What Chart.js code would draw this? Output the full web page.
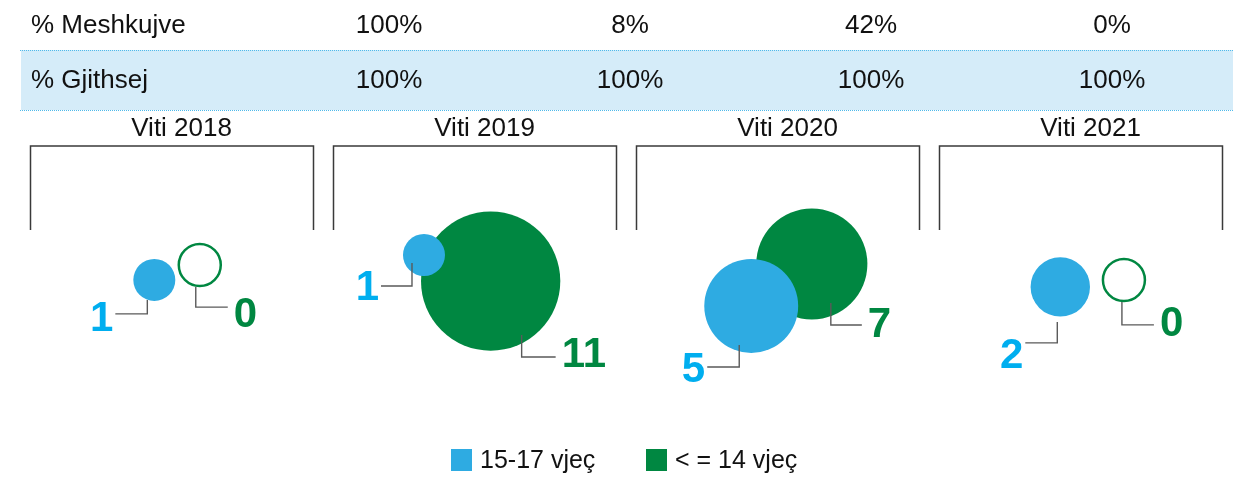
<!DOCTYPE html>
<html>
<head>
<meta charset="utf-8">
<script src="https://cdn.jsdelivr.net/npm/chart.js@4.4.0/dist/chart.umd.min.js"></script>
<style>
  body { margin: 0; background: #fff; }
  canvas { display: block; }
</style>
</head>
<body>
<canvas id="chart" width="1233" height="480"></canvas>
<script>
const years = ['Viti 2018', 'Viti 2019', 'Viti 2020', 'Viti 2021'];
const rowLabels = ['% Meshkujve', '% Gjithsej'];
const shareMales = ['100%', '8%', '42%', '0%'];
const shareTotal = ['100%', '100%', '100%', '100%'];
const seriesNames = ['15-17 vjeç', '< = 14 vjeç'];
const age15to17 = [1, 1, 5, 2];
const age14under = [0, 11, 7, 0];
// bubble coordinates (x = panel index + offset, y = free units)
const age15to17X = [0.44, 1.33, 2.41, 3.43];
const age15to17Y = [5.36, 6.25, 4.43, 5.11];
const age14underX = [0.59, 1.55, 2.61, 3.64];
const age14underY = [5.89, 5.32, 5.93, 5.36];

const BLUE = '#2eabe2';
const BLUE_TXT = '#00aeef';
const GREEN = '#008741';
const FONT = '"Liberation Sans", Arial, sans-serif';

function radius(v) {
    return v > 0 ? 21 * Math.sqrt(v) : 21;
}

function points(xs, ys, vals) {
    return vals.map((v, i) => ({ x: xs[i], y: ys[i], r: radius(v), v: v }));
}

// leader line layout per point: start offset on bubble, elbow y, end x, label y (px from bubble centre)
const leaders = [
    [[-7, 20, 34, -39, 40], [-12, 8, 31, -43, 33], [-12, 39, 61, -44, 64], [-3, 35, 56, -35, 70]],
    [[-4, 22, 42, 28, 50], [31, 54, 76, 65, 74], [19, 39, 61, 50, 61], [-2, 22, 45, 30, 45]]
];

const decor = {
    id: 'decor',
    beforeDatasetsDraw(chart) {
        const ctx = chart.ctx;
        const x = chart.scales.x;
        ctx.save();
        // table
        ctx.fillStyle = '#d5ecf9';
        ctx.fillRect(21, 50, chart.width - 21, 60);
        ctx.strokeStyle = '#4fb9ea';
        ctx.lineWidth = 1;
        ctx.setLineDash([1, 1]);
        [50.5, 110.5].forEach(y => {
            ctx.beginPath();
            ctx.moveTo(20, y);
            ctx.lineTo(chart.width, y);
            ctx.stroke();
        });
        ctx.setLineDash([]);
        ctx.fillStyle = '#111';
        ctx.font = '26px ' + FONT;
        ctx.textBaseline = 'middle';
        ctx.textAlign = 'left';
        ctx.fillText(rowLabels[0], 31, 26);
        ctx.fillText(rowLabels[1], 31, 81);
        ctx.textAlign = 'center';
        years.forEach((y, i) => {
            ctx.fillText(shareMales[i], 389 + i * 241, 26);
            ctx.fillText(shareTotal[i], 389 + i * 241, 81);
        });
        // year panels
        ctx.strokeStyle = '#3a3a3a';
        ctx.lineWidth = 1.5;
        ctx.font = '26px ' + FONT;
        years.forEach((y, i) => {
            const l = Math.round(x.getPixelForValue(i + 0.03)) + 0.5;
            const r = Math.round(x.getPixelForValue(i + 0.965)) + 0.5;
            ctx.beginPath();
            ctx.moveTo(l, 230);
            ctx.lineTo(l, 146);
            ctx.lineTo(r, 146);
            ctx.lineTo(r, 230);
            ctx.stroke();
            ctx.fillText(y, x.getPixelForValue(i + 0.53), 129);
        });
        ctx.restore();
    },
    afterDatasetsDraw(chart) {
        const ctx = chart.ctx;
        ctx.save();
        const vals = [age15to17, age14under];
        const txtColors = [BLUE_TXT, GREEN];
        [0, 1].forEach(d => {
            const meta = chart.getDatasetMeta(d);
            meta.data.forEach((pt, i) => {
                const [sx, sy, ey, ex, ty] = leaders[d][i];
                ctx.strokeStyle = '#5a5a5a';
                ctx.lineWidth = 1.4;
                ctx.beginPath();
                ctx.moveTo(pt.x + sx, pt.y + sy);
                ctx.lineTo(pt.x + sx, pt.y + ey);
                ctx.lineTo(pt.x + ex, pt.y + ey);
                ctx.stroke();
                ctx.fillStyle = txtColors[d];
                ctx.font = 'bold 42px ' + FONT;
                ctx.textBaseline = 'middle';
                if (ex < 0) {
                    ctx.textAlign = 'right';
                    ctx.fillText(String(vals[d][i]), pt.x + ex - 2, pt.y + ty);
                } else {
                    ctx.textAlign = 'left';
                    ctx.fillText(String(vals[d][i]), pt.x + ex + 6, pt.y + ty);
                }
            });
        });
        // legend
        const legendX = [451, 646];
        [BLUE, GREEN].forEach((c, k) => {
            ctx.fillStyle = c;
            ctx.fillRect(legendX[k], 449, 21, 22);
            ctx.fillStyle = '#111';
            ctx.font = '25px ' + FONT;
            ctx.textAlign = 'left';
            ctx.textBaseline = 'middle';
            ctx.fillText(seriesNames[k], legendX[k] + 29, 461);
        });
        ctx.restore();
    }
};

new Chart(document.getElementById('chart'), {
    type: 'bubble',
    data: {
        datasets: [{
            label: seriesNames[0],
            data: points(age15to17X, age15to17Y, age15to17),
            backgroundColor: c => c.raw.v > 0 ? BLUE : '#fff',
            borderColor: BLUE,
            borderWidth: c => c.raw.v > 0 ? 0 : 2.5,
            clip: false
        }, {
            label: seriesNames[1],
            data: points(age14underX, age14underY, age14under),
            backgroundColor: c => c.raw.v > 0 ? GREEN : '#fff',
            borderColor: GREEN,
            borderWidth: c => c.raw.v > 0 ? 0 : 2.5,
            clip: false
        }]
    },
    options: {
        responsive: false,
        animation: false,
        events: [],
        layout: { autoPadding: false, padding: { left: 21, right: 0, top: 150, bottom: 50 } },
        scales: {
            x: { type: 'linear', min: 0, max: 4, display: false },
            y: { type: 'linear', min: 0, max: 10, display: false }
        },
        plugins: {
            legend: { display: false },
            tooltip: { enabled: false }
        }
    },
    plugins: [decor]
});
</script>
</body>
</html>
